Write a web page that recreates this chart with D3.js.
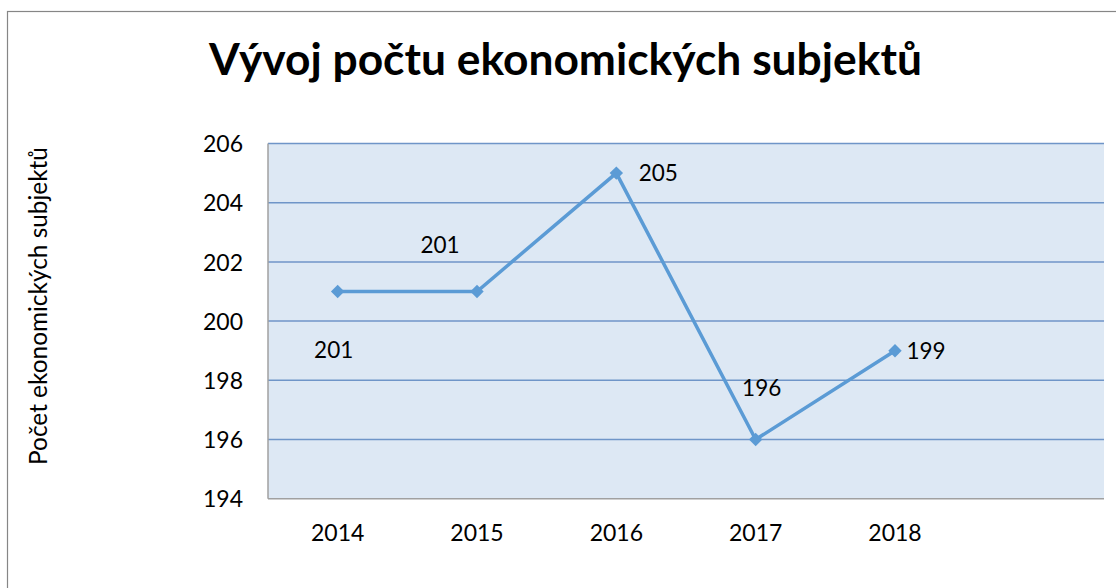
<!DOCTYPE html>
<html>
<head>
    <meta charset="utf-8">
    <title>Vývoj počtu ekonomických subjektů</title>
    <script src="https://cdn.jsdelivr.net/npm/d3@7"></script>
    <style>
        body {
            margin: 0;
            background: #ffffff;
            font-family: Lato, "Open Sans", sans-serif;
        }
        svg {
            display: block;
        }
        .grid line {
            stroke: #6f95c8;
            stroke-width: 1.5px;
        }
        .axis text {
            font-family: Lato, "Open Sans", sans-serif;
            font-size: 23px;
            fill: #000;
        }
        .axis path,
        .axis line {
            display: none;
        }
        .series {
            fill: none;
            stroke: #5b9bd5;
            stroke-width: 3.5px;
        }
        .marker {
            fill: #5b9bd5;
        }
        .value-label {
            font-size: 22.5px;
            fill: #000;
        }
    </style>
</head>
<body>
    <svg width="1116" height="588"></svg>

    <script>
        // data
        const years = ["2014", "2015", "2016", "2017", "2018", ""];
        const values = [201, 201, 205, 196, 199];
        const yTicks = [194, 196, 198, 200, 202, 204, 206];
        // manual label placement relative to each point (as in the original)
        const labelOffsets = [[-4, 58], [-37, -47], [42, 0], [6, -52], [31, 0]];

        const svg = d3.select("svg");
        const plot = { left: 268, top: 143.5, right: 1104, bottom: 498.7 };

        // outer frame (continues past right and bottom edge)
        svg.append("rect")
           .attr("x", 7.5)
           .attr("y", 11.5)
           .attr("width", 1200)
           .attr("height", 700)
           .attr("fill", "#fff")
           .attr("stroke", "#868686")
           .attr("stroke-width", 1.2);

        const x = d3.scaleBand()
                    .domain(years)
                    .range([plot.left, plot.right]);

        const y = d3.scaleLinear()
                    .domain([194, 206])
                    .range([plot.bottom, plot.top]);

        // plot area
        svg.append("rect")
           .attr("x", plot.left)
           .attr("y", plot.top)
           .attr("width", plot.right - plot.left)
           .attr("height", plot.bottom - plot.top)
           .attr("fill", "#dde8f4");

        svg.append("g")
           .attr("class", "grid")
           .selectAll("line")
           .data(yTicks.slice(1))
           .enter()
           .append("line")
           .attr("x1", plot.left)
           .attr("x2", plot.right)
           .attr("y1", d => y(d))
           .attr("y2", d => y(d));

        // axis lines
        svg.append("line")
           .attr("x1", plot.left).attr("x2", plot.left)
           .attr("y1", plot.top).attr("y2", plot.bottom)
           .attr("stroke", "#a0a0a0").attr("stroke-width", 1.5);
        svg.append("line")
           .attr("x1", plot.left).attr("x2", plot.right)
           .attr("y1", plot.bottom).attr("y2", plot.bottom)
           .attr("stroke", "#a0a0a0").attr("stroke-width", 1.5);

        // axes
        svg.append("g")
           .attr("class", "axis")
           .attr("transform", `translate(${plot.left - 25},0)`)
           .call(d3.axisLeft(y).tickValues(yTicks).tickSize(0).tickPadding(0))
           .selectAll("text")
           .attr("dy", "0.36em");

        svg.append("g")
           .attr("class", "axis")
           .attr("transform", `translate(0,${plot.bottom})`)
           .call(d3.axisBottom(x).tickSize(0).tickPadding(0))
           .selectAll("text")
           .attr("dy", 0)
           .attr("y", 42);

        // line + markers
        const px = (d, i) => x(years[i]) + x.bandwidth() / 2;
        const line = d3.line()
                       .x(px)
                       .y(d => y(d));

        svg.append("path")
           .datum(values)
           .attr("class", "series")
           .attr("d", line);

        svg.selectAll(".marker")
           .data(values)
           .enter()
           .append("path")
           .attr("class", "marker")
           .attr("d", d3.symbol().type(d3.symbolSquare).size(90))
           .attr("transform", (d, i) => `translate(${px(d, i)},${y(d)}) rotate(45)`);

        svg.selectAll(".value-label")
           .data(values)
           .enter()
           .append("text")
           .attr("class", "value-label")
           .attr("text-anchor", "middle")
           .attr("dy", "0.36em")
           .attr("x", (d, i) => px(d, i) + labelOffsets[i][0])
           .attr("y", (d, i) => y(d) + labelOffsets[i][1])
           .text(d => d);

        // fit a text element to a measured width from the reference
        function fitWidth(sel, target) {
            const node = sel.node();
            const size = parseFloat(sel.attr("font-size"));
            const w = node.getComputedTextLength();
            sel.attr("font-size", size * target / w);
        }

        const title = svg.append("text")
           .attr("x", 565.5)
           .attr("y", 75)
           .attr("text-anchor", "middle")
           .attr("font-size", 40)
           .attr("font-weight", "bold")
           .text("Vývoj počtu ekonomických subjektů");
        fitWidth(title, 713);

        const yTitle = svg.append("text")
           .attr("transform", "translate(47,306) rotate(-90)")
           .attr("text-anchor", "middle")
           .attr("font-size", 20)
           .text("Počet ekonomických subjektů");
        fitWidth(yTitle, 318);
    </script>
</body>
</html>
